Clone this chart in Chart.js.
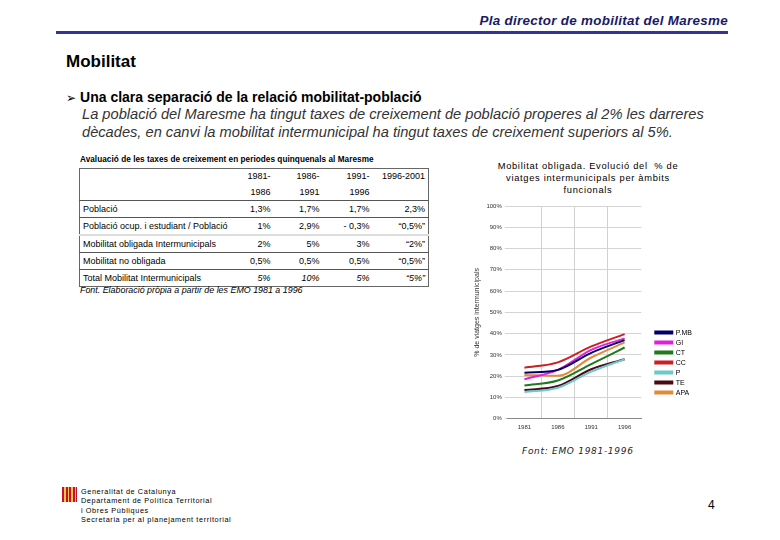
<!DOCTYPE html>
<html><head><meta charset="utf-8">
<script src="https://cdn.jsdelivr.net/npm/chart.js@4"></script>
<style>
html,body{margin:0;padding:0;background:#fff;}
body{width:780px;height:540px;position:relative;overflow:hidden;font-family:"Liberation Sans",Arial,sans-serif;color:#000;}
.abs{position:absolute;white-space:nowrap;}
#hdr{right:52px;top:13px;font-size:13.4px;font-weight:bold;font-style:italic;color:#1a1a66;letter-spacing:0.3px;}
#hline{left:56px;top:31px;width:672px;height:3px;background:#333399;}
#h1{left:66px;top:52px;font-size:17px;font-weight:bold;}
#bul{left:66px;top:89px;font-size:14px;font-weight:bold;}
#bul span{font-family:"DejaVu Sans";font-size:12px;margin-right:4px;}
.it{left:82px;font-size:14.65px;font-style:italic;color:#333;}
#ttl{left:80px;top:155px;font-size:8.2px;font-weight:bold;letter-spacing:0.05px;}
#tbl{position:absolute;left:79px;top:168px;width:349px;border-collapse:collapse;font-size:9px;border:1px solid #666;table-layout:fixed;}
#tbl td{padding:0 3px;height:16px;line-height:16px;overflow:hidden;white-space:nowrap;}
#tbl td.n{text-align:right;}
#tbl tr.hd td{height:15.5px;line-height:15.5px;}
#tbl tr.sep td{border-top:1px solid #555;}
#tbl tr.lsep td{border-top:2px solid #ddd;}
#src{left:80px;top:285px;font-size:8.9px;font-style:italic;}
#ctitle{left:468px;top:160px;width:240px;text-align:center;font-size:9.3px;line-height:12px;letter-spacing:0.7px;}
#font2{left:522px;top:446px;font-size:9px;font-style:italic;letter-spacing:0.7px;font-family:"DejaVu Sans";color:#222;}
#logo{left:62px;top:487px;width:15px;height:15px;background:repeating-linear-gradient(90deg,#c8102e 0 2px,#f2c94c 2px 3.5px);}
.ft{left:81px;font-size:7.3px;letter-spacing:0.6px;}
#pg{left:708px;top:498px;font-size:12px;}
#cwrap{position:absolute;left:471px;top:196px;width:231px;height:240px;}
</style></head><body>
<div class="abs" id="hdr">Pla director de mobilitat del Maresme</div>
<div class="abs" id="hline"></div>
<div class="abs" id="h1">Mobilitat</div>
<div class="abs" id="bul"><span>➢</span>Una clara separació de la relació mobilitat-població</div>
<div class="abs it" style="top:106px">La població del Maresme ha tingut taxes de creixement de població properes al 2% les darreres</div>
<div class="abs it" style="top:124px">dècades, en canvi la mobilitat intermunicipal ha tingut taxes de creixement superiors al 5%.</div>

<div class="abs" id="ttl">Avaluació de les taxes de creixement en periodes quinquenals al Maresme</div>
<table id="tbl">
<colgroup><col style="width:150px"><col style="width:44px"><col style="width:49px"><col style="width:50px"><col style="width:56px"></colgroup>
</table>
<div class="abs" id="src">Font. Elaboració pròpia a partir de les EMO 1981 a 1996</div>

<div class="abs" id="ctitle">Mobilitat obligada. Evolució del &nbsp;% de<br>viatges intermunicipals per àmbits<br>funcionals</div>
<div id="cwrap"><canvas id="c"></canvas></div>
<div class="abs" id="font2">Font: EMO 1981-1996</div>

<div class="abs" id="logo"></div>
<div class="abs ft" style="top:487px">Generalitat de Catalunya</div>
<div class="abs ft" style="top:496px">Departament de Política Territorial</div>
<div class="abs ft" style="top:506px">i Obres Públiques</div>
<div class="abs ft" style="top:515px">Secretaria per al planejament territorial</div>
<div class="abs" id="pg">4</div>

<script>
// ---- table data ----
const periodsTop = ["1981-", "1986-", "1991-", "1996-2001"];
const periodsBottom = ["1986", "1991", "1996", ""];
const rowLabels = ["Població", "Població ocup. i estudiant / Població", "Mobilitat obligada Intermunicipals", "Mobilitat no obligada", "Total Mobilitat Intermunicipals"];
const rowPoblacio = ["1,3%", "1,7%", "1,7%", "2,3%"];
const rowOcupada = ["1%", "2,9%", "- 0,3%", "“0,5%”"];
const rowObligada = ["2%", "5%", "3%", "“2%”"];
const rowNoObligada = ["0,5%", "0,5%", "0,5%", "“0,5%”"];
const rowTotal = ["5%", "10%", "5%", "“5%”"];

// ---- chart data ----
const years = ["1981", "1986", "1991", "1996"];
const yTicks = ["0%", "10%", "20%", "30%", "40%", "50%", "60%", "70%", "80%", "90%", "100%"];
const seriesNames = ["P.MB", "GI", "CT", "CC", "P", "TE", "APA"];
const pmb = [21.6, 23.0, 31.0, 37.0];
const gi  = [18.6, 23.0, 32.4, 37.8];
const ct  = [15.7, 18.0, 25.7, 33.5];
const cc  = [24.0, 26.5, 34.0, 39.8];
const p   = [12.6, 14.6, 22.2, 28.0];
const te  = [13.5, 15.4, 23.3, 28.0];
const apa = [20.6, 20.2, 28.8, 35.9];
const colors = ["#000066", "#e020e0", "#1e7a1e", "#cc1f24", "#6cc8cc", "#4a0a14", "#e08a3a"];

// build table
const tbl = document.getElementById('tbl');
function row(cells, cls, italicNums){
  const tr = document.createElement('tr'); if(cls) tr.className = cls;
  cells.forEach((c,i)=>{ const td=document.createElement('td'); td.textContent=c; if(i>0){td.className='n'; if(italicNums) td.style.fontStyle='italic';} tr.appendChild(td);});
  tbl.appendChild(tr);
}
row([""].concat(periodsTop), "hd");
row([""].concat(periodsBottom), "hd");
row([rowLabels[0]].concat(rowPoblacio), "sep");
row([rowLabels[1]].concat(rowOcupada), "sep");
row([rowLabels[2]].concat(rowObligada), "lsep");
row([rowLabels[3]].concat(rowNoObligada), "sep");
row([rowLabels[4]].concat(rowTotal), "sep", true);

const seriesData = [pmb, gi, ct, cc, p, te, apa];
new Chart(document.getElementById('c'), {
  type: 'line',
  data: {
    labels: years,
    datasets: seriesNames.map((n,i)=>({label:n, data:seriesData[i], borderColor:colors[i], backgroundColor:colors[i], borderWidth:2, pointRadius:0, tension:0.4, cubicInterpolationMode:'monotone', fill:false}))
  },
  options: {
    responsive:true, maintainAspectRatio:false, animation:false,
    layout:{padding:{top:10,bottom:0,left:0,right:0}},
    font:{family:"Liberation Sans"},
    plugins:{
      tooltip:{enabled:false},
      legend:{position:'right', align:'center', maxWidth:60,
        title:{display:true, text:' ', padding:{top:0,bottom:76}, font:{size:6}},
        labels:{boxWidth:17, boxHeight:2, padding:3, color:'#000', font:{size:7, family:"Liberation Sans"}}}
    },
    scales:{
      x:{offset:true, grid:{offset:true, color:(c)=> (c.index>0 && c.index<years.length) ? '#d0d0d0' : 'rgba(0,0,0,0)', lineWidth:1, drawTicks:false}, border:{color:'#888'},
         ticks:{color:'#333', font:{size:6}, padding:5, maxRotation:0}},
      y:{min:0, max:100, grid:{color:'#d4d4d4', drawTicks:true, tickLength:3}, border:{display:false},
         ticks:{stepSize:10, color:'#333', font:{size:6}, padding:3, callback:(v)=>yTicks[Math.round(v/10)]},
         title:{display:true, text:'% de viatges intermunicipals', color:'#333', font:{size:7}, padding:2}},
      gap:{position:'right', display:true, grid:{display:false}, border:{display:false}, ticks:{display:false},
         afterFit:(s)=>{ s.width = 11; }}
    }
  }
});
</script>
</body></html>
